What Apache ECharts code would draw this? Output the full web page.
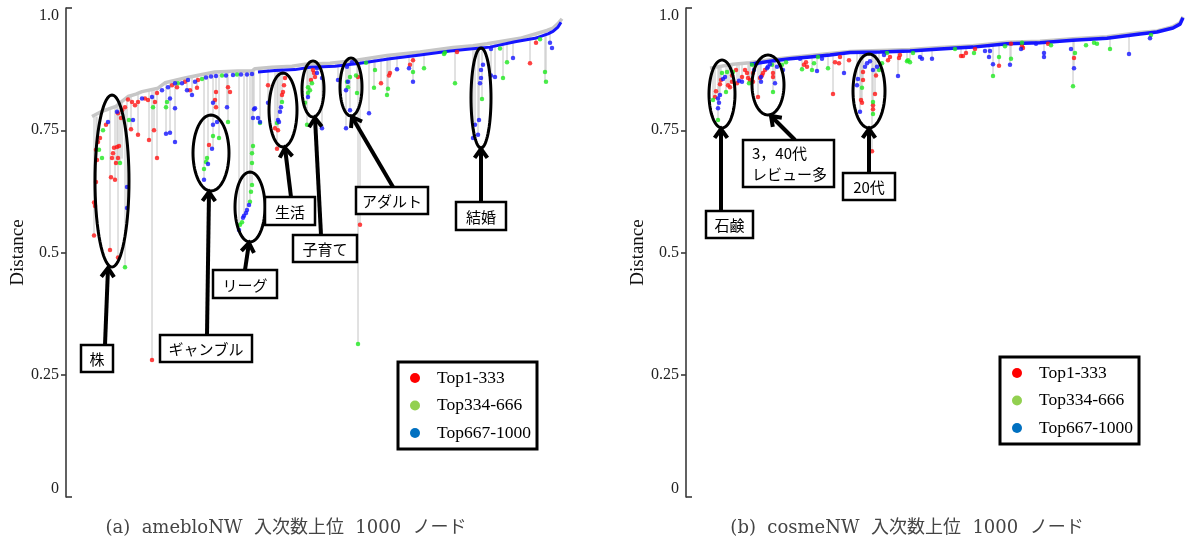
<!DOCTYPE html>
<html><head><meta charset="utf-8">
<script src="https://cdn.jsdelivr.net/npm/echarts@6/dist/echarts.min.js"></script>
<style>html,body{margin:0;padding:0;background:#fff}#c{width:1192px;height:544px}</style>
</head><body><div id="c"></div>
<script>
// ---------- DATA (x = node rank index 0..1000, y = Distance) ----------
const yTickValues = [0, 0.25, 0.5, 0.75, 1.0];
const yTickLabels = ['0', '0.25', '0.5', '0.75', '1.0'];
const legendNames = ['Top1-333', 'Top334-666', 'Top667-1000'];
const captions = ['(a)  amebloNW  入次数上位  1000  ノード', '(b)  cosmeNW  入次数上位  1000  ノード'];

// panel (a) ameblo
const ridgeA = [[52,0.778],[70,0.788],[84,0.793],[100,0.799],[112,0.809],[124,0.819],[140,0.824],[152,0.829],[184,0.836],[198,0.847],[238,0.857],[272,0.864],[298,0.869],[344,0.871],[372,0.871],[378,0.876],[412,0.879],[452,0.881],[478,0.885],[528,0.887],[574,0.892],[642,0.903],[708,0.910],[774,0.919],[814,0.923],[842,0.927],[908,0.938],[962,0.954],[974,0.959],[984,0.968],[992,0.978]];
const bandA = [[384,0.869],[418,0.872],[458,0.874],[488,0.879],[538,0.881],[588,0.887],[648,0.896],[708,0.904],[768,0.912],[808,0.916],[848,0.920],[898,0.931],[938,0.938],[964,0.947],[974,0.952],[984,0.961],[990,0.971]];
const redA = [[56,0.602],[56,0.535],[60,0.644],[62,0.689],[60,0.710],[64,0.726],[68,0.734],[80,0.761],[88,0.505],[104,0.490],[90,0.654],[98,0.649],[94,0.703],[100,0.683],[102,0.716],[106,0.718],[92,0.693],[104,0.693],[96,0.714],[58,0.595],
 [104,0.785],[112,0.791],[118,0.797],[110,0.775],[124,0.813],[132,0.808],[138,0.801],[144,0.808],[158,0.815],[164,0.812],[178,0.808],[182,0.826],[212,0.842],[222,0.838],[238,0.849],[248,0.832],[264,0.853],
 [130,0.752],[144,0.741],[166,0.730],[176,0.750],[182,0.693],[172,0.280],[262,0.837],
 [286,0.720],[300,0.828],[298,0.812],[300,0.797],[328,0.828],[324,0.838],
 [438,0.857],[436,0.842],[434,0.828],[432,0.822],[418,0.754],[404,0.842],[424,0.750],[422,0.712],
 [498,0.859],[496,0.867],[494,0.873],[490,0.853],
 [584,0.859],[588,0.557],[630,0.846],[648,0.867],[694,0.893],[688,0.884],[782,0.910],[928,0.887],[940,0.929],[646,0.862]];
const greenA = [[66,0.710],[72,0.693],[74,0.750],[108,0.683],[118,0.470],[126,0.771],[202,0.808],[224,0.846],[272,0.855],[174,0.797],[200,0.797],
 [294,0.738],[306,0.734],[282,0.693],[276,0.671],[324,0.767],[280,0.685],
 [374,0.718],[372,0.703],[372,0.683],[372,0.638],[370,0.624],[368,0.604],[352,0.562],[348,0.557],
 [432,0.808],[422,0.765],[388,0.765],
 [492,0.846],[488,0.832],[484,0.826],[484,0.838],[478,0.806],[482,0.761],
 [568,0.859],[580,0.862],[564,0.838],[582,0.826],[562,0.849],
 [618,0.873],[616,0.837],[642,0.822],[644,0.835],[584,0.313],[716,0.877],[778,0.846],[756,0.906],[832,0.814],[874,0.857],[882,0.889],[958,0.869],[960,0.849],[694,0.869],
 [600,0.888],[758,0.909],[868,0.917],[948,0.936],[312,0.862],[342,0.864]];
const blueA = [[84,0.767],[122,0.634],[122,0.591],[102,0.788],
 [152,0.815],[172,0.818],[192,0.832],[204,0.838],[218,0.846],[232,0.846],[244,0.853],[258,0.849],
 [134,0.771],[208,0.815],[218,0.795],[208,0.745],[200,0.743],[218,0.726],[242,0.832],[252,0.822],
 [292,0.712],[284,0.681],[276,0.649],[294,0.761],[294,0.806],[302,0.767],[322,0.797],
 [366,0.597],[362,0.587],[360,0.581],[356,0.575],[354,0.571],[346,0.546],[376,0.793],[374,0.775],[384,0.775],[388,0.767],
 [430,0.797],[428,0.788],[424,0.771],[404,0.806],[378,0.795],[426,0.767],
 [502,0.877],[502,0.867],[484,0.818],[512,0.857],[512,0.754],
 [562,0.880],[564,0.849],[560,0.832],[568,0.791],[544,0.853],[560,0.754],[572,0.889],
 [606,0.785],[662,0.875],[686,0.877],[694,0.849],[850,0.916],[850,0.862],[894,0.898],[968,0.929],[972,0.918],[858,0.859],
 [834,0.884],[830,0.857],[828,0.846],[826,0.771],[818,0.761],[814,0.734],[824,0.741],[830,0.873],
 [280,0.858],[290,0.860],[300,0.861],[320,0.862],[334,0.863],[350,0.864],[362,0.864],[372,0.865]];
// stems: [x, top, bottom]
const stemsA = [[56,0.778,0.535],[60,0.778,0.644],[62,0.778,0.689],[88,0.793,0.505],[104,0.797,0.490],[118,0.797,0.470],[98,0.797,0.649],[102,0.797,0.683],[108,0.797,0.683],[122,0.816,0.591],[112,0.807,0.692],
 [130,0.821,0.752],[144,0.824,0.741],[166,0.831,0.730],[176,0.834,0.750],[182,0.834,0.693],[172,0.834,0.280],[200,0.847,0.743],[208,0.847,0.745],[218,0.850,0.726],[242,0.857,0.832],[252,0.860,0.822],[262,0.862,0.837],
 [276,0.864,0.649],[284,0.866,0.681],[294,0.868,0.712],[300,0.869,0.797],[306,0.869,0.734],[322,0.870,0.797],[324,0.870,0.767],
 [346,0.871,0.546],[356,0.871,0.575],[362,0.871,0.587],[368,0.871,0.604],[372,0.871,0.638],[374,0.871,0.703],[376,0.871,0.793],[388,0.876,0.765],
 [404,0.878,0.806],[418,0.879,0.754],[422,0.879,0.712],[424,0.879,0.750],[428,0.880,0.788],[432,0.880,0.808],
 [482,0.885,0.761],[484,0.885,0.818],[488,0.885,0.832],[492,0.885,0.846],[512,0.886,0.754],
 [544,0.887,0.853],[560,0.889,0.754],[564,0.889,0.838],[568,0.890,0.791],[582,0.892,0.826],[584,0.892,0.313],[588,0.893,0.557],
 [606,0.895,0.785],[616,0.896,0.837],[618,0.896,0.873],[630,0.898,0.846],[642,0.902,0.822],[644,0.902,0.835],[648,0.903,0.867],[662,0.905,0.875],[686,0.908,0.877],[694,0.909,0.849],[716,0.910,0.877],[756,0.916,0.906],[778,0.919,0.846],[782,0.919,0.910],[814,0.923,0.734],[818,0.923,0.761],[824,0.924,0.741],[826,0.924,0.771],[832,0.925,0.814],[850,0.927,0.862],[858,0.928,0.859],[874,0.930,0.857],[882,0.932,0.889],[894,0.934,0.898],[928,0.943,0.887],[940,0.946,0.929],[958,0.951,0.849],[960,0.951,0.869],[968,0.953,0.929]];

// panel (b) cosme
const ridgeB = [[48,0.877],[94,0.885],[128,0.888],[168,0.894],[208,0.899],[248,0.903],[288,0.907],[328,0.911],[388,0.913],[448,0.915],[508,0.919],[574,0.923],[642,0.930],[708,0.932],[774,0.937],[842,0.941],[908,0.950],[942,0.953],[974,0.962],[988,0.970],[994,0.982]];
const bandB = [[128,0.885],[168,0.891],[208,0.896],[248,0.900],[288,0.904],[328,0.909],[388,0.910],[448,0.912],[508,0.916],[574,0.920],[642,0.927],[708,0.929],[774,0.934],[842,0.938],[908,0.947],[942,0.951],[974,0.959],[988,0.967],[994,0.980]];
const redB = [[60,0.830],[58,0.818],[70,0.853],[68,0.844],[84,0.842],[92,0.862],[88,0.838],[100,0.873],[102,0.846],[112,0.859],[118,0.873],[122,0.867],[124,0.857],[128,0.853],[134,0.867],[134,0.849],[92,0.849],
 [144,0.818],[148,0.857],[152,0.862],[154,0.867],[158,0.873],[174,0.867],[174,0.859],
 [236,0.884],[240,0.889],[242,0.880],[298,0.889],[306,0.887],[308,0.900],[294,0.824],[326,0.893],
 [354,0.869],[354,0.853],[350,0.812],[352,0.806],[378,0.824],[374,0.801],[374,0.793],[380,0.862],[372,0.707],
 [404,0.893],[408,0.900],[428,0.904],[426,0.898],
 [550,0.902],[554,0.902],[560,0.908],[578,0.916],[626,0.882],[650,0.927],[672,0.922],[674,0.918],[724,0.927],[776,0.898]];
const greenB = [[54,0.812],[64,0.771],[72,0.867],[82,0.869],[80,0.828],[94,0.869],[126,0.846],[132,0.884],
 [174,0.828],[172,0.884],[192,0.884],[200,0.889],
 [232,0.875],[252,0.873],[256,0.887],[264,0.900],[284,0.877],
 [352,0.837],[374,0.808],[374,0.783],[386,0.873],[392,0.887],[402,0.908],
 [448,0.889],[444,0.893],[454,0.908],[442,0.891],
 [538,0.916],[576,0.908],[614,0.861],[626,0.900],[638,0.922],[650,0.896],[672,0.929],[730,0.924],[778,0.908],[774,0.840],[800,0.924],[816,0.929],[822,0.927],[848,0.916],[930,0.945]];
const blueB = [[64,0.815],[66,0.806],[64,0.795],[68,0.822],[74,0.855],[78,0.859],[106,0.851],[112,0.849],[136,0.873],[142,0.887],
 [178,0.846],[150,0.849],[150,0.859],[162,0.877],[164,0.880],[168,0.885],[182,0.880],
 [194,0.873],[228,0.896],[262,0.871],[272,0.896],[316,0.867],
 [342,0.842],[344,0.855],[348,0.788],[358,0.880],[362,0.887],[368,0.891],[374,0.873],[382,0.880],[396,0.904],
 [424,0.861],[468,0.900],[472,0.896],[492,0.896],
 [598,0.912],[608,0.912],[606,0.900],[614,0.885],[648,0.884],[670,0.916],[700,0.927],[716,0.908],[716,0.900],[770,0.916],[776,0.877],[886,0.906],[928,0.938]];
const stemsB = [[54,0.879,0.812],[58,0.879,0.818],[64,0.881,0.771],[66,0.881,0.806],[68,0.881,0.822],[70,0.881,0.853],[80,0.882,0.828],[84,0.882,0.842],[88,0.882,0.838],[92,0.883,0.849],[102,0.884,0.846],[106,0.884,0.851],[112,0.884,0.849],[124,0.885,0.857],[126,0.885,0.846],[128,0.885,0.853],[134,0.886,0.849],
 [144,0.889,0.818],[148,0.890,0.857],[150,0.890,0.849],[174,0.894,0.828],[178,0.895,0.846],
 [232,0.901,0.875],[252,0.903,0.873],[262,0.904,0.871],[284,0.907,0.877],[294,0.908,0.824],[316,0.909,0.867],
 [342,0.911,0.842],[348,0.911,0.788],[350,0.911,0.812],[352,0.911,0.806],[354,0.911,0.853],[372,0.912,0.707],[374,0.912,0.783],[378,0.912,0.824],[380,0.912,0.862],[386,0.913,0.873],
 [424,0.914,0.861],[442,0.915,0.891],[448,0.915,0.889],[472,0.916,0.896],[492,0.918,0.896],
 [550,0.922,0.902],[560,0.922,0.908],[606,0.926,0.900],[614,0.927,0.861],[626,0.928,0.882],[648,0.930,0.884],[650,0.930,0.896],[674,0.931,0.918],[716,0.932,0.900],[774,0.937,0.840],[776,0.937,0.877],[848,0.941,0.916],[886,0.946,0.906],[928,0.952,0.938]];

// ---------- STYLE ----------
const SERIF = "'Liberation Serif','DejaVu Serif',serif";
const CAPFONT = "'DejaVu Serif','Noto Sans CJK JP',serif";
const JP = "'Noto Sans CJK JP','Noto Sans',sans-serif";
const C_RED = '#ff1414', C_GREEN = '#1fe81f', C_BLUE = '#1414ff';
const LEG = ['#ff0000', '#92d050', '#0070c0'];

const chart = echarts.init(document.getElementById('c'), null, {renderer: 'canvas'});

function yAxisCfg(gi) {
  return {
    type: 'value', gridIndex: gi, min: 0, max: 1, interval: 0.25,
    axisLine: {show: true, lineStyle: {color: '#3a3a3a', width: 1.6}},
    axisTick: {show: true, inside: false, length: 5, customValues: [0.25, 0.5, 0.75], lineStyle: {color: '#3a3a3a', width: 1.6}},
    axisLabel: {margin: 7, color: '#222', fontFamily: SERIF, fontSize: 16,
      verticalAlignMaxLabel: 'top', verticalAlignMinLabel: 'bottom',
      formatter: v => { const i = yTickValues.findIndex(t => Math.abs(t - v) < 1e-6); return i >= 0 ? yTickLabels[i] : ''; }},
    splitLine: {show: false},
    name: 'Distance', nameLocation: 'middle', nameGap: 37, nameRotate: 90,
    nameTextStyle: {fontFamily: SERIF, fontSize: 19, color: '#111'}
  };
}
function xAxisCfg(gi) { return {type: 'value', gridIndex: gi, min: 0, max: 1000, show: false}; }

function stemSeries(data, gi) {
  return {type: 'custom', xAxisIndex: gi, yAxisIndex: gi, data: data, z: 1, silent: true,
    renderItem: (params, api) => {
      const p1 = api.coord([api.value(0), api.value(1)]);
      const p2 = api.coord([api.value(0), api.value(2)]);
      return {type: 'line', shape: {x1: p1[0], y1: p1[1], x2: p2[0], y2: p2[1]}, style: {stroke: '#c4c4c4', lineWidth: 1}};
    }};
}
function lineSeries(data, gi, color, w, z) {
  return {type: 'line', xAxisIndex: gi, yAxisIndex: gi, data: data, showSymbol: false, z: z, silent: true,
    lineStyle: {color: color, width: w}, animation: false};
}
function dots(data, gi, color) {
  return {type: 'scatter', xAxisIndex: gi, yAxisIndex: gi, data: data, symbolSize: 4.5, z: 5, clip: false,
    itemStyle: {color: color}, silent: true};
}

// ---------- ANNOTATIONS ----------
const g = [];
function ellipse(cx, cy, rx, ry) {
  const pts = [];
  for (let i = 0; i < 72; i++) { const t = i / 72 * Math.PI * 2; pts.push([cx + rx * Math.cos(t), cy + ry * Math.sin(t)]); }
  g.push({type: 'polygon', shape: {points: pts}, style: {fill: null, stroke: '#000', lineWidth: 3}, z: 50});
}
function arrow(x1, y1, x2, y2) {
  const a = Math.atan2(y2 - y1, x2 - x1), L = 11, w = 0.62;
  g.push({type: 'line', shape: {x1, y1, x2, y2}, style: {stroke: '#000', lineWidth: 4}, z: 50});
  g.push({type: 'polyline', shape: {points: [[x2 - L * Math.cos(a - w), y2 - L * Math.sin(a - w)], [x2, y2], [x2 - L * Math.cos(a + w), y2 - L * Math.sin(a + w)]]},
    style: {stroke: '#000', lineWidth: 4, fill: null}, z: 50});
}
function box(x, y, w, h, text, align) {
  g.push({type: 'rect', shape: {x, y, width: w, height: h}, style: {fill: '#fff', stroke: '#000', lineWidth: 2.5}, z: 51});
  if (align === 'left') {
    g.push({type: 'text', x: x + 9, y: y + h / 2, style: {text: text, fontFamily: JP, fontSize: 15, fill: '#000', align: 'left', verticalAlign: 'middle', lineHeight: 21}, z: 52});
  } else {
    g.push({type: 'text', x: x + w / 2, y: y + h / 2 + 1, style: {text: text, fontFamily: JP, fontSize: 15, fill: '#000', align: 'center', verticalAlign: 'middle'}, z: 52});
  }
}
function legendBox(x, y) {
  g.push({type: 'rect', shape: {x, y, width: 139, height: 87}, style: {fill: '#fff', stroke: '#000', lineWidth: 3}, z: 51});
  for (let i = 0; i < 3; i++) {
    const cy = y + 16 + i * 27.5;
    g.push({type: 'circle', shape: {cx: x + 17, cy: cy, r: 5}, style: {fill: LEG[i]}, z: 52});
    g.push({type: 'text', x: x + 39, y: cy, style: {text: legendNames[i], fontFamily: SERIF, fontSize: 17.5, fill: '#000', verticalAlign: 'middle'}, z: 52});
  }
}
function bracket(x) {
  g.push({type: 'line', shape: {x1: x, y1: 8, x2: x + 6, y2: 8}, style: {stroke: '#3a3a3a', lineWidth: 1.6}, z: 40});
  g.push({type: 'line', shape: {x1: x, y1: 497, x2: x + 6, y2: 497}, style: {stroke: '#3a3a3a', lineWidth: 1.6}, z: 40});
}
bracket(66); bracket(686);

// panel (a)
ellipse(112, 181, 17, 86); box(81, 345, 32, 27, '株'); arrow(105, 345, 108, 268);
ellipse(211, 153, 18, 38); box(160, 335, 92, 27, 'ギャンブル'); arrow(207, 335, 209, 192);
ellipse(250, 207, 15, 35); box(213, 270, 64, 28, 'リーグ'); arrow(245, 270, 249, 243);
ellipse(283, 110, 14, 37); box(265, 197, 50, 28, '生活'); arrow(291, 197, 285, 148);
ellipse(313, 89, 11, 28); box(293, 235, 64, 27, '子育て'); arrow(321, 235, 315, 118);
ellipse(351, 87, 11, 29); box(356, 187, 72, 27, 'アダルト'); arrow(393, 187, 352, 117);
ellipse(481, 98, 10, 50); box(456, 202, 50, 28, '結婚'); arrow(481, 202, 481, 149);
legendBox(398, 362);
// panel (b)
ellipse(722, 94, 13, 34); box(706, 211, 47, 27, '石鹸'); arrow(721, 211, 721, 129);
ellipse(768, 85, 16, 30); box(743, 140, 91, 47, '3，40代\nレビュー多', 'left'); arrow(795, 140, 771, 116);
ellipse(869, 91, 16, 37); box(843, 173, 52, 27, '20代'); arrow(869, 173, 869, 129);
legendBox(1000, 357);

// captions
g.push({type: 'text', x: 286, y: 528, style: {text: captions[0], fontFamily: CAPFONT, fontSize: 18, fill: '#444', align: 'center', verticalAlign: 'middle'}});
g.push({type: 'text', x: 907, y: 528, style: {text: captions[1], fontFamily: CAPFONT, fontSize: 18, fill: '#444', align: 'center', verticalAlign: 'middle'}});

chart.setOption({
  animation: false,
  backgroundColor: '#fff',
  grid: [
    {left: 66, top: 8, width: 500, height: 489},
    {left: 686, top: 8, width: 500, height: 489}
  ],
  xAxis: [xAxisCfg(0), xAxisCfg(1)],
  yAxis: [yAxisCfg(0), yAxisCfg(1)],
  series: [
    stemSeries(stemsA, 0), lineSeries(ridgeA, 0, '#c6c6c6', 3.5, 2), lineSeries(bandA, 0, C_BLUE, 3, 3),
    dots(redA, 0, C_RED), dots(greenA, 0, C_GREEN), dots(blueA, 0, C_BLUE),
    stemSeries(stemsB, 1), lineSeries(ridgeB, 1, '#c6c6c6', 3.5, 2), lineSeries(bandB, 1, C_BLUE, 3.5, 3),
    dots(redB, 1, C_RED), dots(greenB, 1, C_GREEN), dots(blueB, 1, C_BLUE)
  ],
  graphic: g
});
</script></body></html>
